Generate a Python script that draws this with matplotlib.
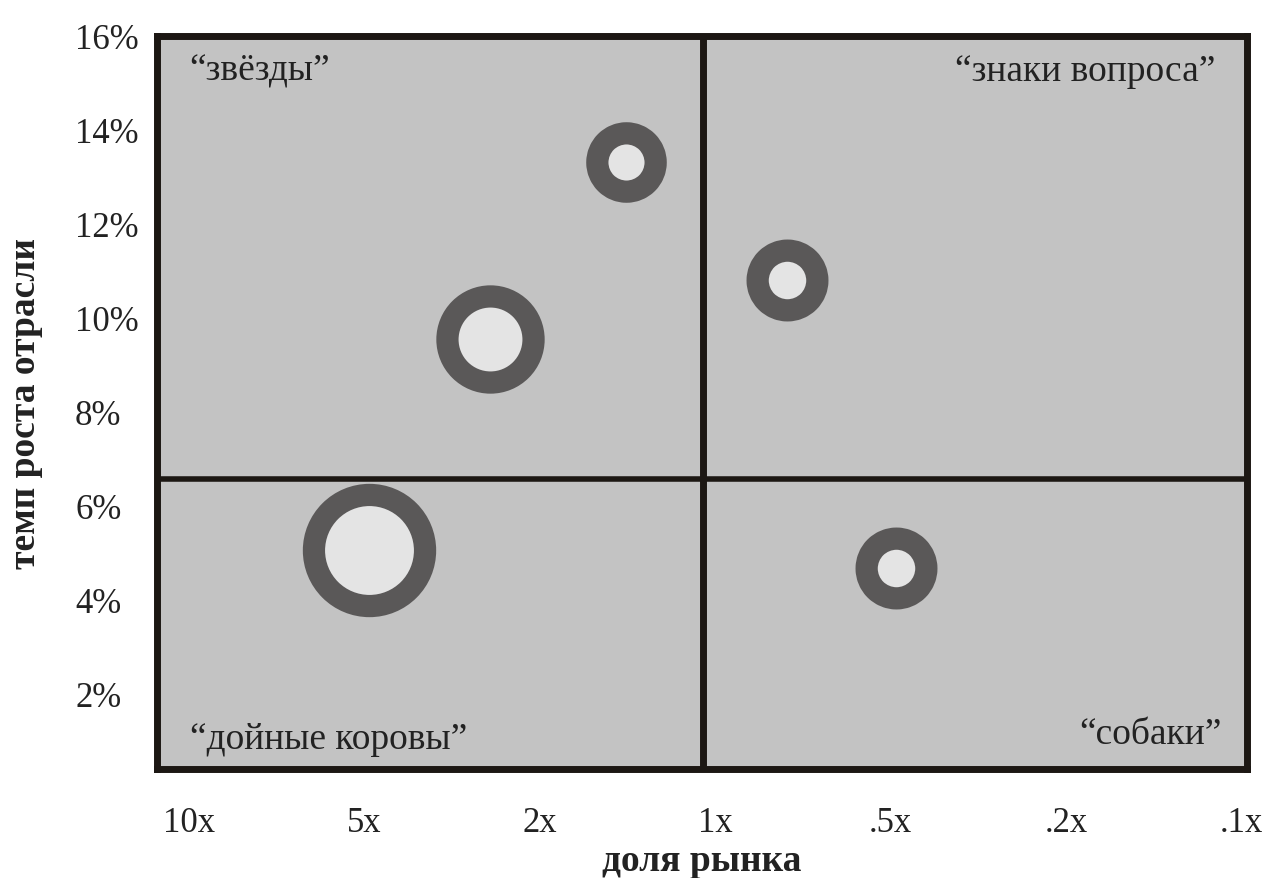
import matplotlib
matplotlib.use("Agg")
import matplotlib.pyplot as plt

plt.rcParams["font.family"] = ["Liberation Serif", "DejaVu Serif"]

# market share ticks (evenly spaced on the chart), growth ticks
share_labels = ["10x", "5x", "2x", "1x", ".5x", ".2x", ".1x"]
growth_ticks = [2, 4, 6, 8, 10, 12, 14, 16]

# business units: position on share axis (tick index), growth %, bubble outer diameter (pt)
unit_share = [2.49, 1.72, 3.41, 1.03, 4.03]
unit_growth = [13.3, 9.55, 10.8, 5.05, 4.67]
unit_size = [58, 78, 59, 96, 59]

# quadrant borders
share_split = 2.93
growth_split = 6.57

quadrants = ["“звёзды”", "“знаки вопроса”", "“дойные коровы”", "“собаки”"]

bg = "#c3c3c3"
ring = "#5a5858"
hole = "#e4e4e4"
ink = "#1c1713"
txt = "#222222"

fig = plt.figure(figsize=(12.72, 8.79), dpi=100)
ax = fig.add_axes([157 / 1272, 1 - 770 / 879, 1090 / 1272, 733.5 / 879])
ax.set_facecolor(bg)

ax.set_xlim(-0.18, 6.03)
ax.set_ylim(0.4, 16)

ax.axvline(share_split, color=ink, lw=5, zorder=2)
ax.axhline(growth_split, color=ink, lw=4, zorder=2)

ring_w = 16
for x, y, d in zip(unit_share, unit_growth, unit_size):
    ax.scatter([x], [y], s=(d - ring_w) ** 2, facecolor=hole, edgecolor=ring,
               linewidths=ring_w, zorder=3)

for sp in ax.spines.values():
    sp.set_linewidth(5)
    sp.set_color(ink)

ax.set_xticks(range(len(share_labels)))
ax.set_xticklabels(share_labels)
ax.set_yticks(growth_ticks)
ax.set_yticklabels([f"{g}%" for g in growth_ticks])
ax.tick_params(axis="both", length=0, labelsize=25, colors=txt)
ax.tick_params(axis="x", pad=27)
ax.tick_params(axis="y", pad=59)
for lbl in ax.get_yticklabels():
    lbl.set_horizontalalignment("left")

ax.set_xlabel("доля рынка", fontsize=27, fontweight="bold", color=txt)
ax.xaxis.label.set_verticalalignment("center")
ax.xaxis.set_label_coords(0.5, -0.125)
ax.set_ylabel("темп роста отрасли", fontsize=27, fontweight="bold", color=txt)
ax.yaxis.set_label_coords(-0.105, 0.5)

qs = 27
ax.text(0.03, 0.952, quadrants[0], transform=ax.transAxes, fontsize=qs,
        ha="left", va="center", color=txt)
ax.text(0.971, 0.952, quadrants[1], transform=ax.transAxes, fontsize=qs,
        ha="right", va="center", color=txt)
ax.text(0.03, 0.041, quadrants[2], transform=ax.transAxes, fontsize=qs,
        ha="left", va="center", color=txt)
ax.text(0.977, 0.048, quadrants[3], transform=ax.transAxes, fontsize=qs,
        ha="right", va="center", color=txt)

fig.savefig("out.png", dpi=100)
